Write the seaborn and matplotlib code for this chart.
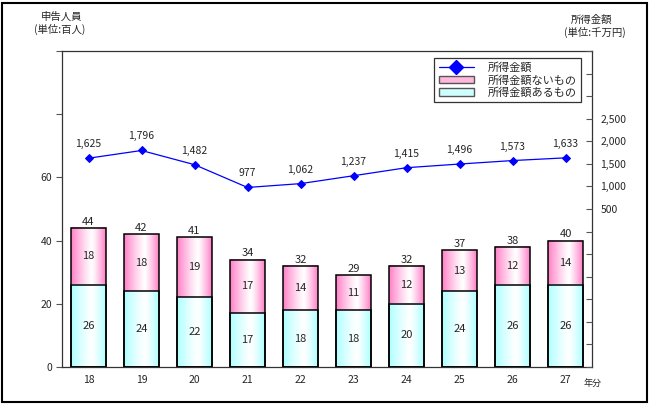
import numpy as np
import pandas as pd
import matplotlib
matplotlib.use("Agg")
import matplotlib.pyplot as plt
import seaborn as sns
from matplotlib.patches import Patch, Rectangle
from matplotlib.lines import Line2D
from matplotlib.ticker import FixedLocator, FixedFormatter

years = ["18", "19", "20", "21", "22", "23", "24", "25", "26", "27"]
with_income = [26, 24, 22, 17, 18, 18, 20, 24, 26, 26]
without_income = [18, 18, 19, 17, 14, 11, 12, 13, 12, 14]
totals = [44, 42, 41, 34, 32, 29, 32, 37, 38, 40]
income_amount = [1625, 1796, 1482, 977, 1062, 1237, 1415, 1496, 1573, 1633]

left_ticks = [0, 20, 40, 60, 80, 100]
left_labels = ["0", "20", "40", "60", "", ""]
right_ticks = list(range(-3000, 4001, 500))
right_labeled = [500, 1000, 1500, 2000, 2500]

sns.set_theme(style="white")
plt.rcParams['font.family'] = ['Noto Sans CJK JP', 'DejaVu Sans']

df = pd.DataFrame({"year": years, "total": totals, "lower": with_income,
                   "upper": without_income, "amount": income_amount})

fig = plt.figure(figsize=(6.5, 4.04), dpi=100)
W, H = 650, 404
ax = fig.add_axes([62 / W, (H - 367) / H, 530 / W, 316 / H])

pink_edge = np.array([1.0, 0.50, 0.78])
cyan_edge = np.array([0.68, 1.0, 1.0])

sns.barplot(data=df, x="year", y="total", ax=ax, width=0.66, color="white",
            edgecolor="black", linewidth=1.1, saturation=1)
n = len(years)
sns.barplot(data=df, x="year", y="lower", ax=ax, width=0.66, color="white",
            edgecolor="black", linewidth=1.1, saturation=1)


def gradient(edge, center=0.6):
    t = np.linspace(0, 1, 80)
    d = np.where(t < center, (center - t) / center, (t - center) / (1 - center))
    w = np.clip(d, 0, 1) ** 1.2
    img = np.ones((1, 80, 3)) * (1 - w[None, :, None]) + edge[None, None, :] * w[None, :, None]
    return img


pimg = gradient(pink_edge)
cimg = gradient(cyan_edge)
patches = list(ax.patches)
for i, p in enumerate(patches):
    x0, y0 = p.get_x(), p.get_y()
    w, h = p.get_width(), p.get_height()
    img = pimg if i < n else cimg
    p.set_facecolor("none")
    p.set_zorder(3)
    ax.imshow(img, extent=[x0, x0 + w, y0, y0 + h], aspect="auto", zorder=2,
              interpolation="bilinear")

ax.set_xlim(-0.5, n - 0.5)
ax.set_ylim(0, 100)
ax.yaxis.set_major_locator(FixedLocator(left_ticks))
ax.yaxis.set_major_formatter(FixedFormatter(left_labels))
ax.set_xlabel("")
ax.set_ylabel("")

fs = 7.5
bfs = 8
for i in range(n):
    ax.text(i, totals[i] + 0.4, str(totals[i]), ha="center", va="bottom", fontsize=bfs, zorder=5)
    ax.text(i, with_income[i] / 2, str(with_income[i]), ha="center", va="center", fontsize=bfs, zorder=5)
    ax.text(i, with_income[i] + without_income[i] / 2, str(without_income[i]), ha="center",
            va="center", fontsize=bfs, zorder=5)

ax.tick_params(axis="y", direction="out", length=4, width=0.8, color="#555555", labelsize=fs, pad=3)
ax.tick_params(axis="x", which="major", length=0, labelsize=fs, pad=6)
ax.xaxis.set_minor_locator(FixedLocator([i + 0.5 for i in range(n - 1)]))
ax.tick_params(axis="x", which="minor", direction="out", length=3, width=0.8, color="#555555")
for s in ax.spines.values():
    s.set_color("#333333")
    s.set_linewidth(0.9)

ax2 = ax.twinx()
ax2.set_position(ax.get_position())
sns.lineplot(x=np.arange(n), y=income_amount, ax=ax2, color="#0000FF", linewidth=0.9,
             marker="D", markersize=4, markeredgecolor="#0000FF", zorder=6)
ax2.set_ylim(-3000, 4000)
ax2.set_xlim(-0.5, n - 0.5)
ax2.yaxis.set_major_locator(FixedLocator(right_ticks))
ax2.yaxis.set_major_formatter(FixedFormatter(
    [f"{v:,}" if v in right_labeled else "" for v in right_ticks]))
ax2.tick_params(axis="y", direction="in", length=4, width=0.8, color="#555555", labelsize=fs, pad=6)
for s in ax2.spines.values():
    s.set_visible(False)
for i, v in enumerate(income_amount):
    ax2.annotate(f"{v:,}", (i, v), xytext=(0, 6.5), textcoords="offset points",
                 ha="center", va="bottom", fontsize=fs)

handles = [
    Line2D([0], [0], color="#0000FF", lw=0.9, marker="D", markersize=7),
    Patch(facecolor="#ffb8dc", edgecolor="#555555", linewidth=1),
    Patch(facecolor="#d0ffff", edgecolor="#555555", linewidth=1),
]
labels = ["所得金額", "所得金額ないもの", "所得金額あるもの"]
leg = ax2.legend(handles, labels, loc="upper right", bbox_to_anchor=(0.979, 0.978),
                 fontsize=8, frameon=True, fancybox=False, edgecolor="#333333",
                 framealpha=1, handlelength=3.2, handleheight=0.7, labelspacing=0.15,
                 borderpad=0.4, handletextpad=1.2, borderaxespad=0)
leg.get_frame().set_linewidth(0.9)

fig.text(62 / W, 1 - 17 / H, "申告人員", ha="center", va="center", fontsize=7.5)
fig.text(60 / W, 1 - 29 / H, "(単位:百人)", ha="center", va="center", fontsize=7.5)
fig.text(592 / W, 1 - 20 / H, "所得金額", ha="center", va="center", fontsize=7.5)
fig.text(595 / W, 1 - 32 / H, "(単位:千万円)", ha="center", va="center", fontsize=7.5)
fig.text(593 / W, 1 - 383 / H, "年分", ha="center", va="center", fontsize=6.5)

fig.patches.append(Rectangle((1.5 / W, 2 / H), 645.5 / W, 399.5 / H, transform=fig.transFigure,
                             fill=False, edgecolor="black", linewidth=1.5))

fig.savefig("out.png", dpi=100)
